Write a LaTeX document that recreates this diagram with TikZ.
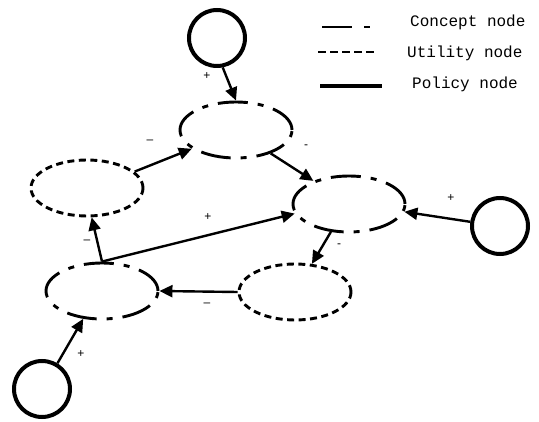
\documentclass[tikz,border=0pt]{standalone}
\usepackage{fontspec}
\setmainfont{Liberation Sans}
\newfontfamily\legfont{Liberation Mono}
\usetikzlibrary{arrows.meta,shapes.geometric}
\tikzset{
  concept/.style={ellipse,draw,line width=2.9pt,minimum width=112pt,minimum height=56pt,inner sep=0pt,
    dash pattern=on 30pt off 10pt on 6pt off 10pt},
  utility/.style={ellipse,draw,line width=2.9pt,minimum width=112pt,minimum height=56pt,inner sep=0pt,
    dash pattern=on 7pt off 4.5pt},
  policy/.style={circle,draw,line width=4pt,minimum size=56pt,inner sep=0pt},
  link/.style={line width=2.4pt,-{Triangle[length=13pt,width=12pt]}},
  sgn/.style={font=\fontsize{12}{12}\selectfont,inner sep=0pt},
  leg/.style={font=\legfont\fontsize{16}{16}\selectfont,anchor=base west,inner sep=0pt}
}
\begin{document}
\begin{tikzpicture}[x=1pt,y=-1pt]
\useasboundingbox (0,0) rectangle (539,422);
% policy nodes
\node[policy] (p1) at (217,38) {};
\node[policy] (p2) at (500,226) {};
\node[policy] (p3) at (42,389) {};
% concept / utility nodes
\node[concept] (tc) at (236,130) {};
\node[utility] (lu) at (87,188) {};
\node[concept] (mc) at (349,204) {};
\node[concept] (bc) at (102,291) {};
\node[utility] (bu) at (295,292) {};
% connectors
\draw[link] (p1.-79) -- (tc.north);
\draw[link] (lu.19) -- (tc.203);
\draw[link] (tc.-34) -- (mc.147);
\draw[link] (p2.172) -- (mc.-8);
\draw[link] (mc.-123) -- (bu.59);
\draw[link] (bu.west) -- (bc.east);
\draw[link] (bc.north) -- (mc.190);
\draw[link] (bc.north) -- (lu.-81);
\draw[link] (p3.59) -- (bc.-124);
% signs
\node[sgn] (s1) at (207,76) {+};
\node[sgn] (s2) at (150,142) {–};
\node[sgn] (s3) at (306,147) {-};
\node[sgn] (s4) at (451,198) {+};
\node[sgn] (s5) at (339,246) {-};
\node[sgn] (s6) at (207,305) {–};
\node[sgn] (s7) at (208,217) {+};
\node[sgn] (s8) at (87,242) {–};
\node[sgn] (s9) at (81,354) {+};
% legend
\coordinate (la1) at (322,27); \coordinate (la2) at (370,27);
\coordinate (lb1) at (318,52); \coordinate (lb2) at (374,52);
\coordinate (lc1) at (320,86); \coordinate (lc2) at (382,86);
\draw[line width=2.6pt,dash pattern=on 30pt off 12pt on 6pt off 10pt] (la1) -- (la2);
\draw[line width=2.6pt,dash pattern=on 8pt off 4pt] (lb1) -- (lb2);
\draw[line width=4pt] (lc1) -- (lc2);
\node[leg] (t1) at (410,27) {Concept node};
\node[leg] (t2) at (407,58) {Utility node};
\node[leg] (t3) at (412,89) {Policy node};
\end{tikzpicture}
\end{document}
